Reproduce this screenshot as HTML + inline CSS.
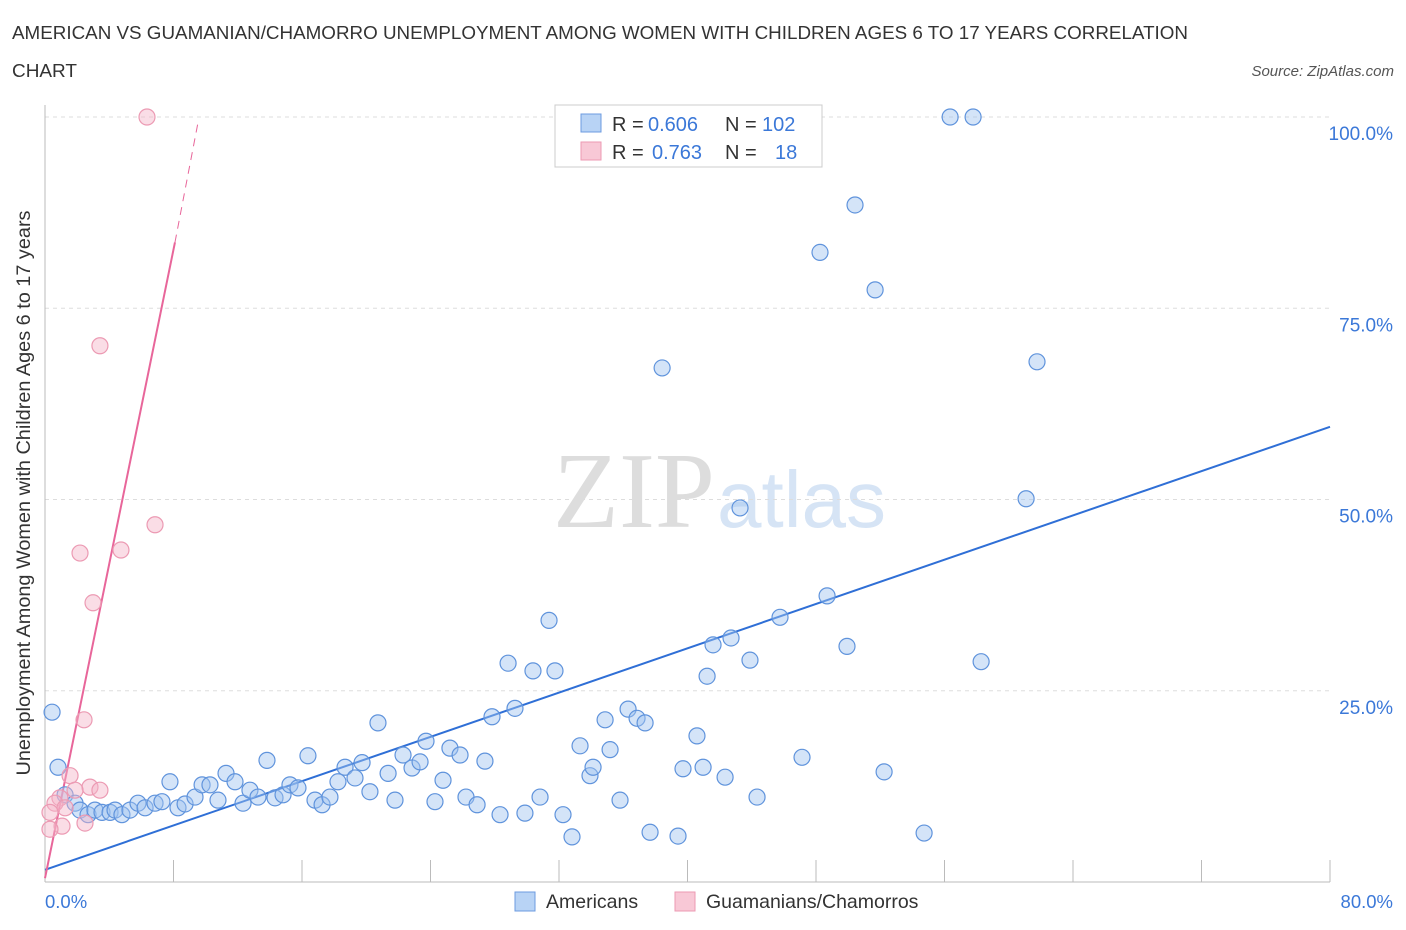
<!DOCTYPE html>
<html><head><meta charset="utf-8"><style>
body{margin:0;background:#fff;font-family:"Liberation Sans",sans-serif;}
svg{display:block}
</style></head><body>
<svg id="chart" width="1406" height="930" xmlns="http://www.w3.org/2000/svg">
<text x="12" y="39" font-size="18" fill="#333" textLength="1176" lengthAdjust="spacingAndGlyphs">AMERICAN VS GUAMANIAN/CHAMORRO UNEMPLOYMENT AMONG WOMEN WITH CHILDREN AGES 6 TO 17 YEARS CORRELATION</text>
<text x="12" y="77" font-size="18" fill="#333" textLength="65" lengthAdjust="spacingAndGlyphs">CHART</text>
<text x="1394" y="76" font-size="15" fill="#555" font-style="italic" text-anchor="end">Source: ZipAtlas.com</text>
<text x="715" y="527" font-size="108" fill="#ddd" text-anchor="end" font-family="Liberation Serif,serif">ZIP</text>
<text x="717" y="527" font-size="80" fill="#d6e4f5">atlas</text>
<g id="grid"></g><g id="axes"></g><g id="lines"></g><g id="pts"></g>
<text x="30" y="493" font-size="19" fill="#333" text-anchor="middle" textLength="565" lengthAdjust="spacingAndGlyphs" transform="rotate(-90 30 493)">Unemployment Among Women with Children Ages 6 to 17 years</text>
<text x="45" y="908" font-size="18.5" fill="#3b78d8">0.0%</text>
<text x="1393" y="908" font-size="18.5" fill="#3b78d8" text-anchor="end">80.0%</text>
<g>
<rect x="555" y="105" width="267" height="62" fill="#fff" stroke="#ccc"/>
<rect x="581" y="114" width="20" height="18" fill="#b8d3f5" stroke="#6c9be0"/>
<rect x="581" y="142" width="20" height="18" fill="#f8c8d6" stroke="#ec9ab3"/>
<text x="612" y="131" font-size="20" fill="#333">R =</text>
<text x="648" y="131" font-size="20" fill="#3b78d8">0.606</text>
<text x="725" y="131" font-size="20" fill="#333">N =</text>
<text x="762" y="131" font-size="20" fill="#3b78d8">102</text>
<text x="612" y="159" font-size="20" fill="#333">R =</text>
<text x="652" y="159" font-size="20" fill="#3b78d8">0.763</text>
<text x="725" y="159" font-size="20" fill="#333">N =</text>
<text x="775" y="159" font-size="20" fill="#3b78d8">18</text>
</g>
<g>
<rect x="515" y="892" width="20" height="19" fill="#b8d3f5" stroke="#6c9be0"/>
<text x="546" y="908" font-size="19.5" fill="#333">Americans</text>
<rect x="675" y="892" width="20" height="19" fill="#f8c8d6" stroke="#ec9ab3"/>
<text x="706" y="908" font-size="19.5" fill="#333">Guamanians/Chamorros</text>
</g>
</svg>
<script>
const amX=[0.44,0.81,1.25,1.87,2.18,2.68,3.11,3.55,4.05,4.36,4.79,5.29,5.79,6.23,6.85,7.28,7.78,8.28,8.72,9.34,9.78,10.27,10.77,11.27,11.83,12.33,12.76,13.26,13.82,14.32,14.82,15.25,15.75,16.37,16.81,17.25,17.74,18.24,18.68,19.30,19.74,20.23,20.73,21.36,21.79,22.29,22.85,23.35,23.72,24.28,24.78,25.21,25.84,26.21,26.90,27.39,27.83,28.33,28.83,29.26,29.88,30.38,30.82,31.38,31.75,32.25,32.81,33.31,33.93,34.12,34.87,35.18,35.80,36.30,36.86,37.36,37.67,38.42,39.41,39.72,40.59,40.97,41.22,41.59,42.34,42.71,43.27,43.89,44.33,45.76,47.13,48.25,48.69,49.93,50.43,51.68,52.24,54.73,56.35,57.78,58.28,61.08,61.76];
const amY=[22.2,15.0,11.4,10.3,9.4,8.8,9.4,9.1,9.1,9.4,8.8,9.4,10.3,9.7,10.3,10.5,13.1,9.7,10.2,11.1,12.7,12.7,10.7,14.2,13.1,10.3,12.0,11.1,15.9,11.0,11.4,12.7,12.3,16.5,10.7,10.1,11.1,13.1,15.0,13.6,15.6,11.8,20.8,14.2,10.7,16.6,14.9,15.7,18.4,10.5,13.3,17.5,16.6,11.1,10.1,15.8,21.6,8.8,28.6,22.7,9.0,27.6,11.1,34.2,27.6,8.8,5.9,17.8,13.9,15.0,21.2,17.3,10.7,22.6,21.4,20.8,6.5,67.2,6.0,14.8,19.1,15.0,26.9,31.0,13.7,31.9,48.9,29.0,11.1,34.6,16.3,82.3,37.4,30.8,88.5,77.4,14.4,6.4,100,100,28.8,50.1,68.0];
const guX=[6.35,3.42,6.85,2.18,4.73,2.99,2.43,1.56,2.80,3.42,1.87,0.93,0.62,1.25,0.31,2.49,1.06,0.31];
const guY=[100,70.1,46.7,43.0,43.4,36.5,21.2,13.9,12.4,12.0,12.0,11.0,10.3,9.7,9.1,7.7,7.3,6.9];
const amTrend=[[0,1.6],[80,59.5]];
const guTrend=[[0,0.5],[8.09,83.6]];
const guTrendDash=[[8.09,83.6],[9.5,99]];
const yTicks=[25,50,75,100];
const yTickLabels=["25.0%","50.0%","75.0%","100.0%"];
const xTicks=[0,8,16,24,32,40,48,56,64,72,80];
const NS="http://www.w3.org/2000/svg";
const sx=v=>45+v*1285/80, sy=v=>882-v*7.65;
function mk(tag,at,par){const e=document.createElementNS(NS,tag);for(const k in at)e.setAttribute(k,at[k]);document.getElementById(par).appendChild(e);return e;}
yTicks.forEach((t,i)=>{
 const g=mk('line',{x1:45,x2:1330,y1:sy(t),y2:sy(t),stroke:'#ddd','stroke-dasharray':'4,4'},'grid');
 
 
 const l=mk('text',{x:1393,y:sy(t)+23,'font-size':19,fill:'#3b78d8','text-anchor':'end'},'grid');
 l.textContent=yTickLabels[i];
 
 
});
const xa=mk('line',{x1:45,x2:1330,y1:882,y2:882,stroke:'#bbb'},'axes');


const ya=mk('line',{x1:45,x2:45,y1:105,y2:882,stroke:'#bbb'},'axes');


xTicks.forEach(t=>{
 const k=mk('line',{x1:sx(t),x2:sx(t),y1:860,y2:882,stroke:'#bbb'},'axes');
 
 
});
amX.forEach((x,i)=>{
 const c=mk('circle',{cx:sx(x),cy:sy(amY[i]),r:8,fill:'rgba(160,195,240,0.45)',stroke:'#5f93dc','stroke-width':1.2},'pts');
 
 
});
guX.forEach((x,i)=>{
 const c=mk('circle',{cx:sx(x),cy:sy(guY[i]),r:8,fill:'rgba(245,180,200,0.45)',stroke:'#ec9ab3','stroke-width':1.2},'pts');
 
 
});
const l1=mk('line',{x1:sx(amTrend[0][0]),y1:sy(amTrend[0][1]),x2:sx(amTrend[1][0]),y2:sy(amTrend[1][1]),stroke:'#2f6fd6','stroke-width':2},'lines');


const l2=mk('line',{x1:sx(guTrend[0][0]),y1:sy(guTrend[0][1]),x2:sx(guTrend[1][0]),y2:sy(guTrend[1][1]),stroke:'#e8669a','stroke-width':2},'lines');


const l3=mk('line',{x1:sx(guTrendDash[0][0]),y1:sy(guTrendDash[0][1]),x2:sx(guTrendDash[1][0]),y2:sy(guTrendDash[1][1]),stroke:'#e8669a','stroke-width':1,'stroke-dasharray':'8,6'},'lines');


</script>
</body></html>
